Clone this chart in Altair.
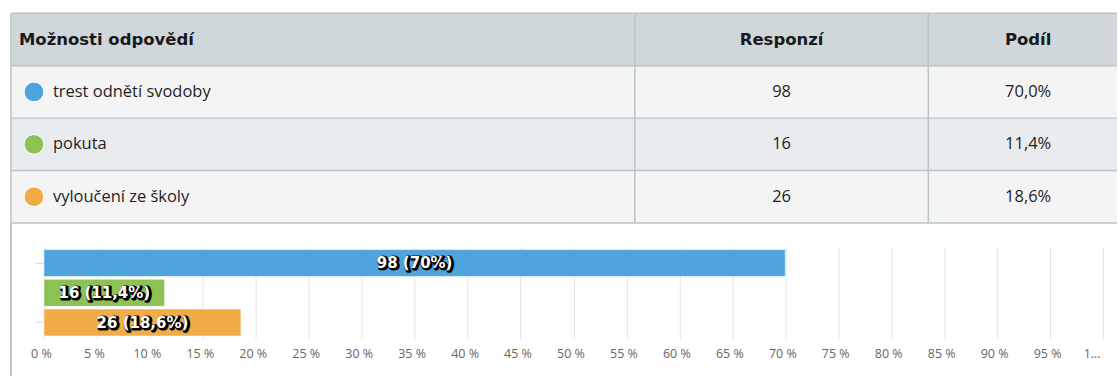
import altair as alt
import pandas as pd

# Survey results
answers = ["trest odnětí svodoby", "pokuta", "vyloučení ze školy"]
responses = [98, 16, 26]
shares = [70.0, 11.4, 18.6]
colors = ["#4fa4dc", "#8cc154", "#f0ac46"]

headers = ["Možnosti odpovědí", "Responzí", "Podíl"]
x_ticks = list(range(0, 101, 5))

# Layout of the table (pixels inside the table view)
TABLE_W, TABLE_H = 1108, 210
COL_EDGES = [0, 625, 919, 1108]
COL_CENTERS = [772, 1019]
ROW_KEYS = ["head", "r0", "r1", "r2"]
ROW_FILLS = ["#cfd7db", "#f4f4f4", "#e9ecee", "#f4f4f4"]
BORDER = "#b9c4c9"
TEXT = "#1e1e1e"


def fmt_cz(v):
    return f"{v:.1f}".replace(".", ",")


share_text = [fmt_cz(s) + "%" for s in shares]
bar_labels = [
    f"{r} ({fmt_cz(s) if s % 1 else int(s)}%)" for r, s in zip(responses, shares)
]

cells = pd.DataFrame(
    [
        {"row": rk, "x0": COL_EDGES[i], "x1": COL_EDGES[i + 1], "fill": fc}
        for rk, fc in zip(ROW_KEYS, ROW_FILLS)
        for i in range(3)
    ]
)
rows = pd.DataFrame({"row": ROW_KEYS})
vlines = pd.DataFrame({"edge": COL_EDGES[:-1]})
body = pd.DataFrame(
    {
        "row": ROW_KEYS[1:],
        "answer": answers,
        "count": [str(r) for r in responses],
        "share": share_text,
        "color": colors,
    }
)
head = pd.DataFrame({"row": ["head"] * 3, "text": headers})

x_tab = alt.X(
    "x0:Q", scale=alt.Scale(domain=[0, TABLE_W], nice=False, zero=False), axis=None
)
y_tab = alt.Y(
    "row:N",
    sort=ROW_KEYS,
    scale=alt.Scale(paddingInner=0, paddingOuter=0),
    axis=None,
)

fills = alt.Chart(cells).mark_rect().encode(
    x=x_tab, x2="x1:Q", y=y_tab, fill=alt.Fill("fill:N", scale=None)
)
hrules_top = alt.Chart(rows).mark_rule(color=BORDER, strokeWidth=1.5).encode(
    y=alt.Y("row:N", sort=ROW_KEYS, bandPosition=0, axis=None),
    x=alt.value(0),
    x2=alt.value(TABLE_W),
)
hrule_bottom = (
    alt.Chart(rows)
    .transform_filter(alt.datum.row == ROW_KEYS[-1])
    .mark_rule(color=BORDER, strokeWidth=1.5)
    .encode(
        y=alt.Y("row:N", sort=ROW_KEYS, bandPosition=1, axis=None),
        x=alt.value(0),
        x2=alt.value(TABLE_W),
    )
)
vrules = alt.Chart(vlines).mark_rule(color=BORDER, strokeWidth=1.5).encode(
    x=alt.X("edge:Q", axis=None), y=alt.value(0), y2=alt.value(TABLE_H)
)

head_font = dict(font="DejaVu Sans", fontWeight="bold", fontSize=16.5, color="#1a1a1a")
head_left = (
    alt.Chart(head.iloc[[0]])
    .mark_text(align="left", baseline="middle", **head_font)
    .encode(x=alt.value(8), y=y_tab, text="text:N")
)
head_mid = (
    alt.Chart(head.iloc[[1]])
    .mark_text(align="center", baseline="middle", **head_font)
    .encode(x=alt.value(COL_CENTERS[0]), y=y_tab, text="text:N")
)
head_right = (
    alt.Chart(head.iloc[[2]])
    .mark_text(align="center", baseline="middle", **head_font)
    .encode(x=alt.value(COL_CENTERS[1]), y=y_tab, text="text:N")
)

body_font = dict(font="Open Sans", fontSize=16.5, color=TEXT, baseline="middle")
dots = alt.Chart(body).mark_circle(
    size=390, opacity=1, stroke="white", strokeWidth=1
).encode(x=alt.value(23), y=y_tab, fill=alt.Fill("color:N", scale=None))
names = alt.Chart(body).mark_text(align="left", **body_font).encode(
    x=alt.value(42), y=y_tab, text="answer:N"
)
counts = alt.Chart(body).mark_text(align="center", **body_font).encode(
    x=alt.value(COL_CENTERS[0]), y=y_tab, text="count:N"
)
pcts = alt.Chart(body).mark_text(align="center", **body_font).encode(
    x=alt.value(COL_CENTERS[1]), y=y_tab, text="share:N"
)

table = alt.layer(
    fills, hrules_top, hrule_bottom, vrules,
    head_left, head_mid, head_right,
    dots, names, counts, pcts,
).properties(width=TABLE_W, height=TABLE_H)

# Horizontal bar chart of the shares
bars_df = pd.DataFrame(
    {"answer": answers, "share": shares, "label": bar_labels, "color": colors}
)
BAR_H = 92

x_bar = alt.X(
    "share:Q",
    scale=alt.Scale(domain=[0, 100], range=[33, 1094], nice=False, zero=True),
    axis=alt.Axis(
        values=x_ticks,
        grid=True,
        gridColor="#e4e4e4",
        gridWidth=1,
        domain=False,
        ticks=False,
        tickSize=0,
        labelExpr="datum.value == 100 ? '1…' : datum.value + ' %'",
        labelAlign=alt.expr("datum.value == 100 ? 'right' : 'center'"),
        labelFont="Open Sans",
        labelFontSize=12.5,
        labelColor="#666666",
        labelPadding=9,
        labelOffset=-3,
        labelFlush=False,
        title=None,
    ),
)
y_bar = alt.Y(
    "answer:N",
    sort=answers,
    scale=alt.Scale(paddingInner=0.09, paddingOuter=0.09),
    axis=alt.Axis(
        values=[answers[0], answers[2]],
        labels=False,
        domain=False,
        ticks=True,
        tickColor="#ccd6eb",
        tickSize=9,
        offset=-33,
        grid=False,
        title=None,
    ),
)

bar_marks = alt.Chart(bars_df).mark_bar(
    stroke="white", strokeWidth=1, strokeOpacity=0.6
).encode(x=x_bar, y=y_bar, fill=alt.Fill("color:N", scale=None))

label_base = alt.Chart(bars_df).transform_calculate(mid="datum.share / 2")
label_font = dict(font="DejaVu Sans", fontWeight="bold", fontSize=15, baseline="middle")
label_shadow = label_base.mark_text(
    color="black", stroke="black", strokeWidth=3, strokeJoin="round",
    dx=1.5, dy=1, **label_font
).encode(x=alt.X("mid:Q"), y=alt.Y("answer:N", sort=answers), text="label:N")
label_text = label_base.mark_text(color="white", **label_font).encode(
    x=alt.X("mid:Q"), y=alt.Y("answer:N", sort=answers), text="label:N"
)
left_border = alt.Chart(bars_df).mark_rule(color=BORDER, strokeWidth=1.5).encode(
    x=alt.value(0), y=alt.value(-24), y2=alt.value(129)
)

bars = alt.layer(bar_marks, label_shadow, label_text, left_border).properties(
    width=TABLE_W, height=BAR_H
)

chart = (
    alt.vconcat(table, bars, spacing=24, bounds="flush")
    .properties(padding={"left": 10, "top": 12, "right": 0, "bottom": 0}, background="white")
    .configure_view(stroke=None)
)

chart.save("out.html", embed_options={"renderer": "svg", "actions": False})
